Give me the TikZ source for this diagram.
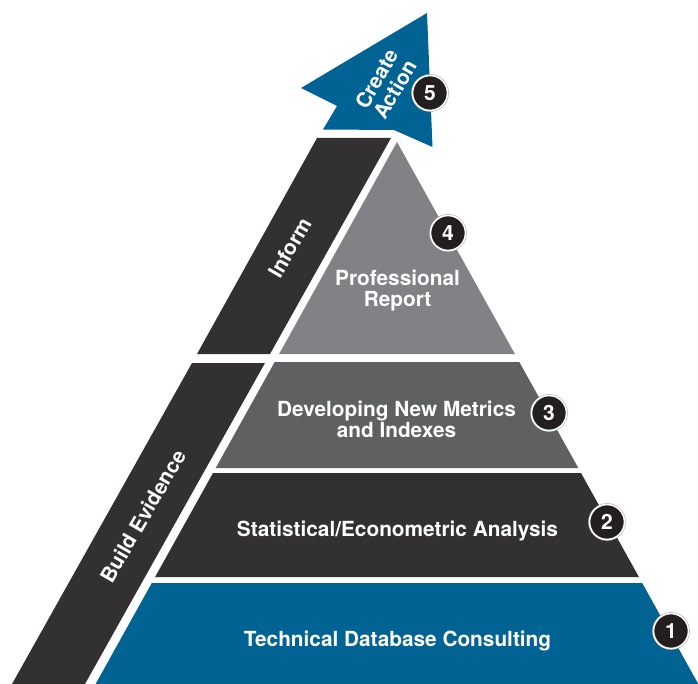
\documentclass[tikz,border=0pt]{standalone}
\usepackage{fontspec}
\setmainfont{TeX Gyre Heros}
\definecolor{pblue}{RGB}{0,99,148}
\definecolor{pdark}{RGB}{50,48,49}
\definecolor{pgrayA}{RGB}{95,96,98}
\definecolor{pgrayB}{RGB}{129,130,133}
\definecolor{pcirc}{RGB}{35,31,32}
\tikzset{
  lbl/.style={text=white, font=\fontsize{20.8}{21}\selectfont\bfseries, align=center, inner sep=0pt},
  numc/.style={circle, fill=pcirc, draw=white, line width=1.6pt, minimum size=35pt, inner sep=0pt,
    text=white, font=\fontsize{21}{21}\selectfont\bfseries,
    preaction={draw=black!35, line width=2.6pt}},
}
\begin{document}
\begin{tikzpicture}[x=1pt,y=-1pt]
\useasboundingbox (0,0) rectangle (698,684);
% pyramid layers
\fill[pgrayB] (397,142) -- (514.9,354) -- (279.1,354) -- cycle;
\fill[pgrayA] (274.7,362) -- (519.3,362) -- (578.3,468) -- (215.7,468) -- cycle;
\fill[pdark] (213,473) -- (581,473) -- (638.9,577) -- (155.1,577) -- cycle;
\fill[pblue] (151.8,583) -- (642.2,583) -- (698,683.5) -- (698,684) -- (95.6,684) -- cycle;
% side bands
\fill[pdark] (317,138) -- (391,138) -- (270,354) -- (197,354) -- cycle;
\fill[pdark] (192,363) -- (265,363) -- (85,684) -- (12,684) -- cycle;
% arrow
\fill[pblue] (427,13) -- (432.5,147) -- (394,130) -- (323,129.5) -- (337,106) -- (301,88) -- cycle;
% labels
\node[lbl, anchor=base] (t1) at (397.5,646) {Technical Database Consulting};
\node[lbl, anchor=base] (t2) at (397.5,536) {Statistical/Econometric Analysis};
\node[lbl, anchor=base] (t3a) at (396.5,416) {Developing New Metrics};
\node[lbl, anchor=base] (t3b) at (396.5,437) {and Indexes};
\node[lbl, anchor=base] (t4a) at (397.5,286) {Professional};
\node[lbl, anchor=base] (t4b) at (397.5,307) {Report};
\node[lbl, rotate=60] (inf) at (290,248) {Inform};
\node[lbl, rotate=60] (be) at (143,516) {Build Evidence};
\node[lbl, rotate=60] (ca) at (386,84) {Create\\Action};
% numbers
\node[numc] (n5) at (430,93) {5};
\node[numc] (n4) at (448,233) {4};
\node[numc] (n3) at (549,413) {3};
\node[numc] (n2) at (607,522) {2};
\node[numc] (n1) at (671,631) {1};
\end{tikzpicture}
\end{document}
